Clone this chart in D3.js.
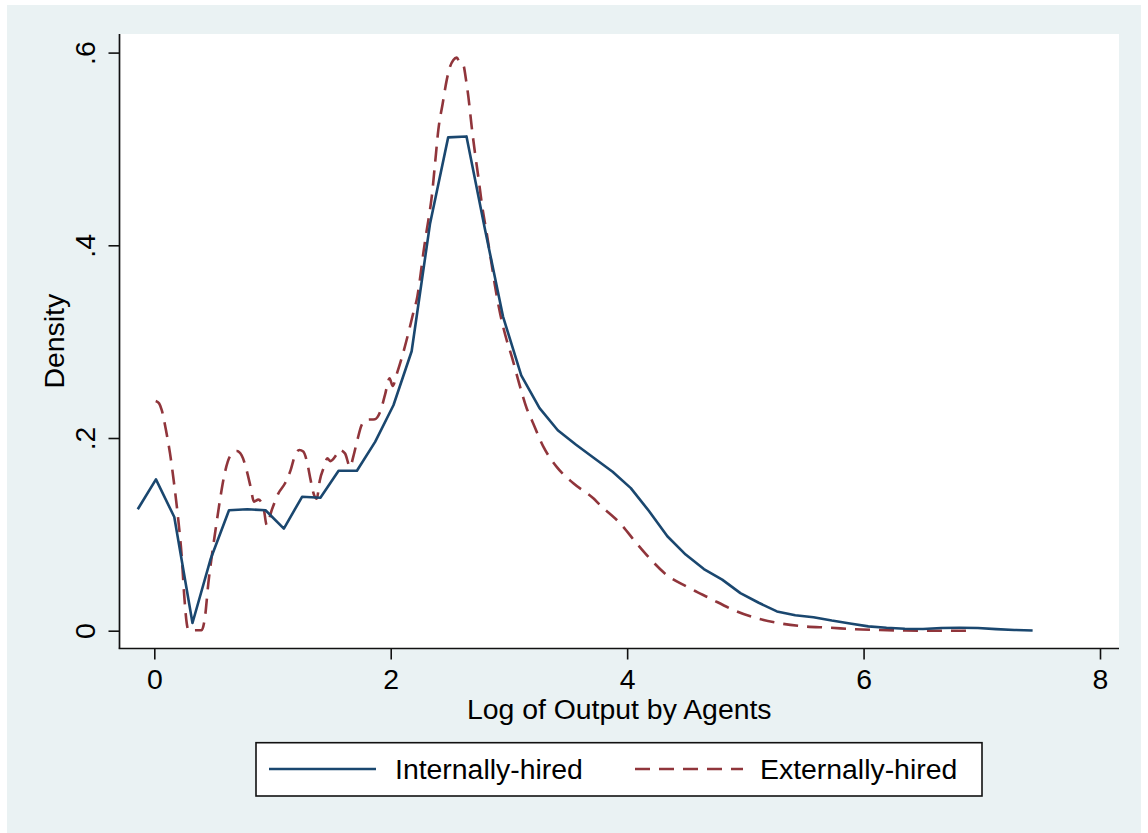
<!DOCTYPE html>
<html>
<head>
<meta charset="utf-8">
<script src="https://cdn.jsdelivr.net/npm/d3@7/dist/d3.min.js"></script>
<style>
  html, body { margin: 0; padding: 0; background: #ffffff; }
  svg { display: block; }
  text { font-family: "Liberation Sans", Arial, Helvetica, sans-serif; fill: #000; }
</style>
</head>
<body>
<svg id="chart" width="1148" height="833"></svg>
<script>
// Kernel density of log output, internally- vs externally-hired agents

// Internally-hired: density evaluated on a 50-point grid
const internalX = [-0.140, 0.014, 0.169, 0.323, 0.478, 0.632, 0.787, 0.941, 1.096, 1.250,
                   1.405, 1.559, 1.714, 1.868, 2.023, 2.177, 2.332, 2.486, 2.641, 2.795,
                   2.950, 3.104, 3.259, 3.413, 3.568, 3.722, 3.877, 4.031, 4.186, 4.340,
                   4.495, 4.649, 4.804, 4.958, 5.113, 5.267, 5.422, 5.576, 5.731, 5.885,
                   6.040, 6.194, 6.349, 6.503, 6.658, 6.812, 6.967, 7.121, 7.276, 7.430];
const internalY = [0.126, 0.157, 0.118, 0.008, 0.075, 0.125, 0.126, 0.125, 0.106, 0.139,
                   0.138, 0.166, 0.166, 0.196, 0.234, 0.290, 0.422, 0.512, 0.513, 0.418,
                   0.326, 0.265, 0.231, 0.208, 0.193, 0.179, 0.165, 0.148, 0.124, 0.098,
                   0.079, 0.064, 0.053, 0.039, 0.029, 0.020, 0.016, 0.014, 0.0105, 0.0075,
                   0.0045, 0.003, 0.002, 0.0018, 0.0028, 0.003, 0.0028, 0.0016, 0.0008, 0.0002];

// Externally-hired: density curve
const externalX = [0.012, 0.040, 0.063, 0.099, 0.133, 0.167, 0.203, 0.232, 0.254, 0.274,
                   0.290, 0.400, 0.429, 0.457, 0.486, 0.522, 0.556, 0.590, 0.640, 0.697,
                   0.739, 0.780, 0.815, 0.843, 0.880, 0.922, 0.951, 0.993, 1.050, 1.106,
                   1.154, 1.190, 1.227, 1.260, 1.294, 1.323, 1.351, 1.374, 1.400, 1.436,
                   1.464, 1.490, 1.537, 1.565, 1.613, 1.656, 1.684, 1.718, 1.754, 1.797,
                   1.867, 1.910, 1.952, 1.990, 2.017, 2.050, 2.100, 2.149, 2.190, 2.225,
                   2.254, 2.276, 2.305, 2.332, 2.347, 2.375, 2.403, 2.440, 2.474, 2.502,
                   2.530, 2.558, 2.586, 2.614, 2.637, 2.657, 2.685, 2.713, 2.741, 2.770,
                   2.812, 2.854, 2.882, 2.925, 2.980, 3.024, 3.094, 3.150, 3.193, 3.291,
                   3.404, 3.545, 3.714, 3.770, 3.940, 4.080, 4.190, 4.335, 4.504, 4.700,
                   4.900, 5.096, 5.290, 5.460, 5.720, 5.930, 6.140, 6.350, 6.600, 6.915];
const externalY = [0.2385, 0.236, 0.229, 0.208, 0.184, 0.153, 0.115, 0.077, 0.035, 0.008,
                   0.0005, 0.0005, 0.0145, 0.049, 0.077, 0.108, 0.136, 0.160, 0.181, 0.1865,
                   0.182, 0.167, 0.149, 0.134, 0.136, 0.129, 0.1097, 0.125, 0.1426, 0.153,
                   0.167, 0.182, 0.1876, 0.186, 0.174, 0.156, 0.141, 0.137, 0.156, 0.170,
                   0.179, 0.176, 0.182, 0.1876, 0.184, 0.170, 0.181, 0.198, 0.2135, 0.219,
                   0.2195, 0.227, 0.245, 0.262, 0.254, 0.266, 0.286, 0.3087, 0.3295, 0.3467,
                   0.371, 0.392, 0.416, 0.4367, 0.4505, 0.485, 0.520, 0.5475, 0.5717, 0.5855,
                   0.5924, 0.5948, 0.589, 0.587, 0.5717, 0.554, 0.523, 0.4956, 0.471, 0.4437,
                   0.4125, 0.380, 0.358, 0.3295, 0.302, 0.2844, 0.2533, 0.2309, 0.2187, 0.191,
                   0.170, 0.153, 0.1374, 0.1305, 0.1115, 0.0907, 0.0752, 0.0578, 0.0457, 0.0336,
                   0.0215, 0.0129, 0.0077, 0.0049, 0.0031, 0.0015, 0.0007, 0.0002, 0.0, 0.0];

const xTicks = [0, 2, 4, 6, 8];
const xTickLabels = ["0", "2", "4", "6", "8"];
const yTicks = [0, 0.2, 0.4, 0.6];
const yTickLabels = ["0", ".2", ".4", ".6"];
const seriesNames = ["Internally-hired", "Externally-hired"];
const seriesColors = ["#1a476f", "#90353b"];
const xTitle = "Log of Output by Agents";
const yTitle = "Density";

const svg = d3.select("#chart");
const fontSize = "28.4px";

// Layout of the graph and plot regions
const outer = { left: 7, top: 5, right: 1141, bottom: 833 };
const plot = { left: 119.5, top: 34, right: 1119, bottom: 648.5 };

const x = d3.scaleLinear().domain([0, 8]).range([154.3, 1100]);
const y = d3.scaleLinear().domain([0, 0.6]).range([630.7, 52.6]);

// Background
svg.append("rect")
  .attr("x", outer.left).attr("y", outer.top)
  .attr("width", outer.right - outer.left).attr("height", outer.bottom - outer.top)
  .attr("fill", "#eaf2f3");

svg.append("rect")
  .attr("x", plot.left).attr("y", plot.top)
  .attr("width", plot.right - plot.left).attr("height", plot.bottom - plot.top)
  .attr("fill", "#ffffff");

// Density curves
const internalPts = internalX.map((v, i) => [v, internalY[i]]);
const externalPts = externalX.map((v, i) => [v, externalY[i]]);

const lineLinear = d3.line().x(d => x(d[0])).y(d => y(d[1]));
const lineSmooth = d3.line().x(d => x(d[0])).y(d => y(d[1])).curve(d3.curveMonotoneX);

svg.append("path")
  .datum(externalPts)
  .attr("d", lineSmooth)
  .attr("fill", "none")
  .attr("stroke", seriesColors[1])
  .attr("stroke-width", 2.6)
  .attr("stroke-dasharray", "15,9");

svg.append("path")
  .datum(internalPts)
  .attr("d", lineLinear)
  .attr("fill", "none")
  .attr("stroke", seriesColors[0])
  .attr("stroke-width", 2.6)
  .attr("stroke-linejoin", "round");

// Axes
const axisColor = "#111";
const yAxis = d3.axisLeft(y).tickValues(yTicks).tickSize(11).tickSizeOuter(0)
  .tickFormat((d, i) => yTickLabels[i]);
const gy = svg.append("g").attr("transform", `translate(${plot.left},0)`).call(yAxis);
gy.select(".domain").remove();
gy.selectAll(".tick line").attr("stroke", axisColor).attr("stroke-width", 1.6);
gy.selectAll(".tick text")
  .attr("x", 0).attr("y", -24.5).attr("dy", null)
  .attr("transform", "rotate(-90)")
  .attr("text-anchor", "middle")
  .style("font-size", fontSize)
  .style("font-family", "Liberation Sans, Arial, sans-serif")
  .attr("fill", "#000");

const xAxis = d3.axisBottom(x).tickValues(xTicks).tickSize(11).tickSizeOuter(0)
  .tickFormat((d, i) => xTickLabels[i]);
const gx = svg.append("g").attr("transform", `translate(0,${plot.bottom})`).call(xAxis);
gx.select(".domain").remove();
gx.selectAll(".tick line").attr("stroke", axisColor).attr("stroke-width", 1.6);
gx.selectAll(".tick text")
  .attr("y", 40).attr("dy", null)
  .style("font-size", fontSize)
  .style("font-family", "Liberation Sans, Arial, sans-serif")
  .attr("fill", "#000");

svg.append("line")
  .attr("x1", plot.left).attr("x2", plot.left)
  .attr("y1", plot.top).attr("y2", plot.bottom)
  .attr("stroke", axisColor).attr("stroke-width", 1.7);
svg.append("line")
  .attr("x1", plot.left - 0.85).attr("x2", plot.right)
  .attr("y1", plot.bottom).attr("y2", plot.bottom)
  .attr("stroke", axisColor).attr("stroke-width", 1.7);

// Axis titles
svg.append("text")
  .attr("x", (plot.left + plot.right) / 2).attr("y", 719)
  .attr("text-anchor", "middle")
  .style("font-size", fontSize)
  .text(xTitle);

svg.append("text")
  .attr("transform", `translate(64,${(plot.top + plot.bottom) / 2}) rotate(-90)`)
  .attr("text-anchor", "middle")
  .style("font-size", fontSize)
  .text(yTitle);

// Legend
const legend = svg.append("g");
legend.append("rect")
  .attr("x", 256).attr("y", 742.7)
  .attr("width", 726).attr("height", 53.3)
  .attr("fill", "#ffffff")
  .attr("stroke", "#111").attr("stroke-width", 1.6);

const legendItems = [
  { x0: 269, x1: 376, tx: 395, dash: null },
  { x0: 635, x1: 743, tx: 760, dash: "15,9" }
];
legendItems.forEach((it, i) => {
  legend.append("line")
    .attr("x1", it.x0).attr("x2", it.x1)
    .attr("y1", 769).attr("y2", 769)
    .attr("stroke", seriesColors[i])
    .attr("stroke-width", 2.6)
    .attr("stroke-dasharray", it.dash);
  legend.append("text")
    .attr("x", it.tx).attr("y", 779)
    .style("font-size", fontSize)
    .text(seriesNames[i]);
});
</script>
</body>
</html>
